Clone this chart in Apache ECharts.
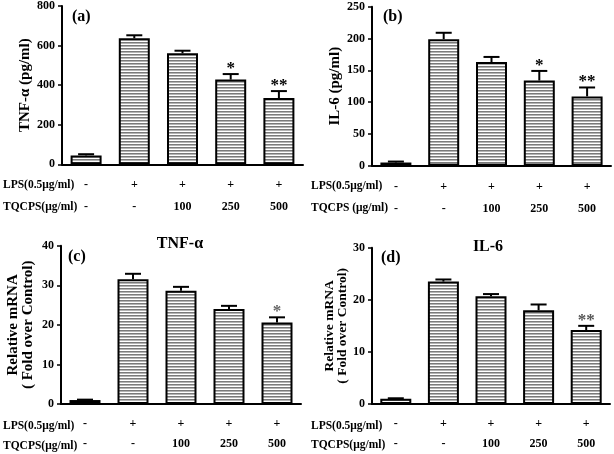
<!DOCTYPE html>
<html>
<head>
<meta charset="utf-8">
<script src="https://cdn.jsdelivr.net/npm/echarts@6/dist/echarts.min.js"></script>
<style>
html,body{margin:0;padding:0;background:#fff;}
#chart{width:614px;height:454px;}
</style>
</head>
<body>
<div id="chart"></div>
<script>
// ---- data ----
const categories = ['Control', 'LPS', 'LPS+TQCPS100', 'LPS+TQCPS250', 'LPS+TQCPS500'];
const lpsRow = ['-', '+', '+', '+', '+'];
const tqRow = ['-', '-', '100', '250', '500'];

const tnfProtein = [45, 637, 561, 428, 335];
const tnfProteinErr = [6, 15, 13, 28, 35];
const tnfProteinSig = ['', '', '', '*', '**'];

const il6Protein = [5, 199, 163, 134, 109];
const il6ProteinErr = [1.5, 10, 8, 15, 14];
const il6ProteinSig = ['', '', '', '*', '**'];

const tnfMrna = [1.0, 31.5, 28.6, 24.0, 20.6];
const tnfMrnaErr = [0.1, 1.4, 1.0, 0.8, 1.3];
const tnfMrnaSig = ['', '', '', '', '*'];

const il6Mrna = [1.0, 23.5, 20.7, 18.0, 14.2];
const il6MrnaErr = [0.1, 0.4, 0.4, 1.1, 0.8];
const il6MrnaSig = ['', '', '', '', '**'];

const yTicksA = [0, 800, 200];
const yTicksB = [0, 250, 50];
const yTicksC = [0, 40, 10];
const yTicksD = [0, 30, 10];

// ---- styles ----
const FONT = '"Liberation Serif","Times New Roman",serif';
const pat = document.createElement('canvas');
pat.width = 4; pat.height = 3;
(function(){
  const c = pat.getContext('2d');
  c.fillStyle = '#ffffff'; c.fillRect(0,0,4,3);
  c.fillStyle = '#7a7a7a'; c.fillRect(0,0,4,1);
  c.fillStyle = '#b4b4b4'; c.fillRect(0,1,4,1);
})();

const chart = echarts.init(document.getElementById('chart'), null, {renderer:'canvas'});

const grids = [
  {left: 62, top: 5.3, width: 241, height: 159},
  {left: 372, top: 6.7, width: 239, height: 159},
  {left: 61, top: 245.7, width: 240, height: 158.3},
  {left: 372, top: 247.7, width: 238, height: 156.3}
];
const lineH = [22, 22, 20, 20];
const yNames = ['TNF-α (pg/ml)', 'IL-6 (pg/ml)', 'Relative mRNA\n( Fold over Control)', 'Relative mRNA\n( Fold over Control)'];
const yGaps = [28, 28, 25, 14];
const yNameSize = [15, 15, 15, 13.5];
const yNameLH = [15, 15, 15, 13];
const yTicks = [yTicksA, yTicksB, yTicksC, yTicksD];
const vals = [tnfProtein, il6Protein, tnfMrna, il6Mrna];
const errs = [tnfProteinErr, il6ProteinErr, tnfMrnaErr, il6MrnaErr];
const sigs = [tnfProteinSig, il6ProteinSig, tnfMrnaSig, il6MrnaSig];
const sigColors = ['#000', '#000', '#666', '#555'];

const xAxes = [], yAxes = [], series = [];
for (let g = 0; g < 4; g++) {
  xAxes.push({
    type: 'category', gridIndex: g, data: categories,
    axisLine: {lineStyle: {color: '#000', width: 2}},
    axisTick: {alignWithLabel: true, length: 5, lineStyle: {color: '#000', width: 1.5}},
    axisLabel: {
      margin: 10, color: '#000', fontFamily: FONT, fontWeight: 'bold', fontSize: 12,
      lineHeight: lineH[g],
      formatter: (v, i) => lpsRow[i] + '\n' + tqRow[i]
    }
  });
  yAxes.push({
    type: 'value', gridIndex: g, min: yTicks[g][0], max: yTicks[g][1], interval: yTicks[g][2],
    splitLine: {show: false},
    axisLine: {show: true, lineStyle: {color: '#000', width: 2}},
    axisTick: {show: true, length: 4, lineStyle: {color: '#000', width: 1.5}},
    axisLabel: {margin: 7, color: '#000', fontFamily: FONT, fontWeight: 'bold', fontSize: 12},
    name: yNames[g], nameLocation: 'middle', nameGap: yGaps[g],
    nameTextStyle: {color: '#000', fontFamily: FONT, fontWeight: 'bold', fontSize: yNameSize[g], lineHeight: yNameLH[g]}
  });
  series.push({
    type: 'bar', xAxisIndex: g, yAxisIndex: g, data: vals[g], barWidth: 31,
    itemStyle: {color: {image: pat, repeat: 'repeat'}, borderColor: '#000', borderWidth: 2},
    z: 2
  });
  const gi = g;
  series.push({
    type: 'custom', xAxisIndex: g, yAxisIndex: g, z: 3,
    data: vals[g].map((v, i) => [i, v, errs[g][i]]),
    renderItem: function (params, api) {
      const i = api.value(0), v = api.value(1), e = api.value(2);
      const p0 = api.coord([i, v]);
      const p1 = api.coord([i, v + e]);
      const hw = 8;
      const children = [
        {type: 'line', shape: {x1: p0[0], y1: p0[1], x2: p1[0], y2: p1[1]}, style: {stroke: '#000', lineWidth: 2}},
        {type: 'line', shape: {x1: p1[0] - hw, y1: p1[1], x2: p1[0] + hw, y2: p1[1]}, style: {stroke: '#000', lineWidth: 2}}
      ];
      const s = sigs[gi][params.dataIndex];
      if (s) {
        children.push({type: 'text', x: p1[0], y: p1[1] + 3,
          style: {text: s, font: 'bold 17px ' + FONT, fill: sigColors[gi], align: 'center', verticalAlign: 'bottom'}});
      }
      return {type: 'group', children: children};
    }
  });
}

function txt(text, x, y, size, align) {
  return {type: 'text', x: x, y: y,
    style: {text: text, font: 'bold ' + size + 'px ' + FONT, fill: '#000', align: align || 'left', verticalAlign: 'middle'}};
}

chart.setOption({
  animation: false,
  backgroundColor: '#fff',
  grid: grids,
  xAxis: xAxes,
  yAxis: yAxes,
  series: series,
  graphic: [
    txt('(a)', 72, 17, 16),
    txt('(b)', 383, 17, 16),
    txt('(c)', 68, 257, 16),
    txt('(d)', 381, 258, 16),
    txt('TNF-α', 180, 244, 16, 'center'),
    txt('IL-6', 488, 247, 16, 'center'),
    txt('LPS(0.5μg/ml)', 3, 185, 11.5),
    txt('TQCPS(μg/ml)', 3, 207, 11.5),
    txt('LPS(0.5μg/ml)', 311, 186, 11.5),
    txt('TQCPS (μg/ml)', 311, 208, 11.5),
    txt('LPS(0.5μg/ml)', 3, 426, 11.5),
    txt('TQCPS(μg/ml)', 3, 446, 11.5),
    txt('LPS(0.5μg/ml)', 311, 426, 11.5),
    txt('TQCPS(μg/ml)', 311, 445, 11.5)
  ]
});
</script>
</body>
</html>
